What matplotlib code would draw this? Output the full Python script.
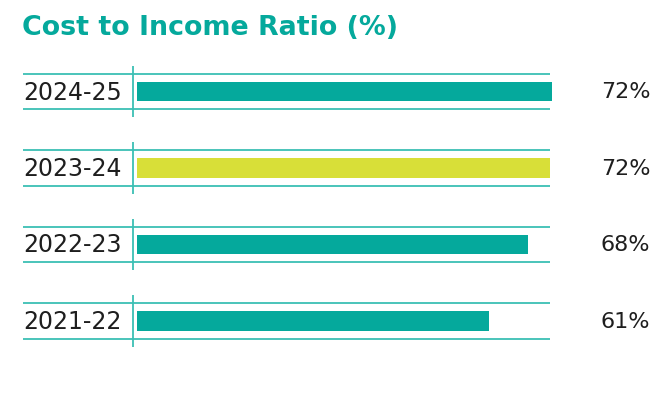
import matplotlib
matplotlib.use("Agg")
import matplotlib.pyplot as plt

years = ["2024-25", "2023-24", "2022-23", "2021-22"]
ratio = [72.1, 71.8, 68.0, 61.3]
bar_colors = ["#05a99c", "#d8df38", "#05a99c", "#05a99c"]

teal = "#05a99c"
line_col = "#3cbfb4"

plt.rcParams["font.family"] = ["DejaVu Sans"]

fig = plt.figure(figsize=(6.53, 4.14), dpi=100)
ax = fig.add_axes([0, 0, 1, 1])
ax.set_axis_off()

# pixel mapping: 0% at x=137px, 5.75 px per %; rows 76.5 px apart
ax.set_xlim(-137 / 5.75, (653 - 137) / 5.75)
ax.set_ylim((414 - 92.5) / 76.5, -92.5 / 76.5)

rows = list(range(len(years)))
ax.barh(rows, ratio, height=0.25, color=bar_colors, left=0)

left_edge = -114 / 5.75
for i, (yr, v) in enumerate(zip(years, ratio)):
    ax.hlines([i - 0.229, i + 0.229], left_edge, 71.9, color=line_col, lw=1.3)
    ax.vlines(-0.7, i - 0.335, i + 0.335, color=line_col, lw=1.3)
    ax.text(left_edge, i, yr, ha="left", va="center", fontsize=17, color="#1e1e1e")
    ax.text(89.3, i, f"{v:.0f}%", ha="right", va="center", fontsize=16, color="#1e1e1e")

fig.text(22 / 653, 1 - 28 / 414, "Cost to Income Ratio (%)", ha="left", va="center",
         fontsize=19.4, fontweight="bold", color=teal)

fig.savefig("out.png", dpi=100)
